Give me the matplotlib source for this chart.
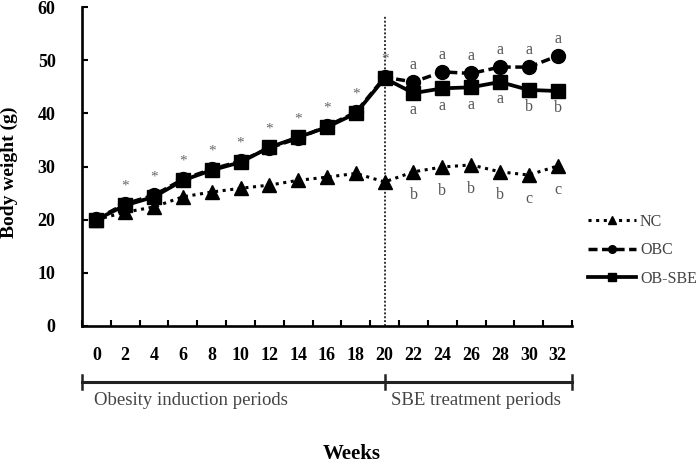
import matplotlib
import numpy as np

matplotlib.use("Agg")
import matplotlib.pyplot as plt
from matplotlib.ticker import FixedLocator

plt.rcParams["font.family"] = ["Liberation Serif", "DejaVu Serif"]

# body weight (g) every 2 weeks
weeks = [0, 2, 4, 6, 8, 10, 12, 14, 16, 18, 20, 22, 24, 26, 28, 30, 32]
nc = [20.0, 21.4, 22.4, 24.3, 25.2, 25.9, 26.5, 27.4, 28.0, 28.7, 27.1,
      29.0, 29.9, 30.3, 29.0, 28.4, 30.1]
obc = [20.1, 23.0, 24.6, 27.6, 29.5, 31.0, 33.5, 35.3, 37.6, 40.2, 46.8,
       45.9, 47.8, 47.5, 48.7, 48.7, 50.8]
ob_sbe = [20.0, 22.7, 24.3, 27.4, 29.3, 30.8, 33.6, 35.5, 37.4, 40.0, 46.6,
          43.8, 44.7, 44.9, 45.9, 44.4, 44.2]

treatment_start = 20
star_weeks = [2, 4, 6, 8, 10, 12, 14, 16, 18, 20]
letter_weeks = [22, 24, 26, 28, 30, 32]
obc_letters = ["a", "a", "a", "a", "a", "a"]
ob_sbe_letters = ["a", "a", "a", "a", "b", "b"]
nc_letters = ["b", "b", "b", "b", "c", "c"]

fig = plt.figure(figsize=(6.98, 4.66), dpi=100)
ax = fig.add_axes([82 / 698, 1 - 326 / 466, 490 / 698, 319 / 466])

ax.plot(weeks, nc, color="black", linestyle=(0, (1, 1.5)), linewidth=2.2,
        marker="^", markersize=10, label="NC")
ax.plot(weeks, obc, color="black", linestyle=(0, (2.6, 1.3)), linewidth=2.5,
        marker="o", markersize=10, label="OBC")
ax.plot(weeks, ob_sbe, color="black", linestyle="-", linewidth=2.7,
        marker="s", markersize=9.5, label="OB-SBE")

ax.axvline(treatment_start, ymin=0, ymax=58.5 / 60, color="#333333",
           linestyle=(0, (1, 1)), linewidth=1.4, zorder=1)

# significance marks
idx = {w: i for i, w in enumerate(weeks)}
for w in star_weeks:
    top = max(obc[idx[w]], ob_sbe[idx[w]])
    ax.annotate("*", (w, top), xytext=(0, 13), textcoords="offset points",
                ha="center", va="center", fontsize=11, color="#666666")
for w, a, b, c in zip(letter_weeks, obc_letters, ob_sbe_letters, nc_letters):
    i = idx[w]
    ax.annotate(a, (w, obc[i]), xytext=(0, 12.5), textcoords="offset points",
                ha="center", va="center", fontsize=11.5, color="#555555")
    ax.annotate(b, (w, ob_sbe[i]), xytext=(0, -12.5), textcoords="offset points",
                ha="center", va="center", fontsize=11.5, color="#555555")
    ax.annotate(c, (w, nc[i]), xytext=(0, -17), textcoords="offset points",
                ha="center", va="center", fontsize=11.5, color="#555555")

x_lo, x_hi = weeks[0] - 1, weeks[-1] + 1
ax.set_xlim(x_lo, x_hi)
ax.set_ylim(0, 60)
ax.set_yticks(np.arange(0, 61, 10))
ax.set_xticks(weeks)
ax.xaxis.set_minor_locator(FixedLocator(np.arange(x_lo, x_hi + 1, 2)))

for side in ("top", "right"):
    ax.spines[side].set_visible(False)
for side in ("left", "bottom"):
    ax.spines[side].set_linewidth(1.9)

ax.tick_params(axis="x", which="major", length=0, pad=15, labelsize=13)
ax.tick_params(axis="x", which="minor", direction="in", length=4, width=1.5)
ax.tick_params(axis="y", direction="in", length=4, width=1.5, pad=19, labelsize=13)
for lbl in ax.get_xticklabels() + ax.get_yticklabels():
    lbl.set_fontweight("bold")

# period bar under the axis
trans = ax.get_xaxis_transform()
bar_y = -0.1755
cap = 0.022
ax.plot([x_lo, x_hi], [bar_y, bar_y], color="#222222", linewidth=2.2,
        transform=trans, clip_on=False)
for xc in (x_lo, treatment_start, x_hi):
    ax.plot([xc, xc], [bar_y - cap, bar_y + cap], color="#222222", linewidth=1.8,
            transform=trans, clip_on=False)
ax.text(weeks[0] - 0.15, -0.232, "Obesity induction periods", transform=trans,
        ha="left", va="center", fontsize=13.5, color="#444444")
ax.text(treatment_start + 0.45, -0.232, "SBE treatment periods", transform=trans,
        ha="left", va="center", fontsize=13.5, color="#444444")

ax.set_xlabel("Weeks", fontsize=15, fontweight="bold")
ax.xaxis.set_label_coords(0.551, -0.37)
ax.set_ylabel("Body weight (g)", fontsize=14, fontweight="bold")
ax.yaxis.set_label_coords(-0.131, 0.483)

fig.legend(loc="upper left", bbox_to_anchor=(588 / 698, 1 - 214 / 466),
           frameon=False, fontsize=11.5, handlelength=3.0, handletextpad=0.25,
           labelspacing=0.78, markerscale=0.55, borderpad=0, borderaxespad=0,
           labelcolor="#444444")

fig.savefig("out.png", dpi=100)
